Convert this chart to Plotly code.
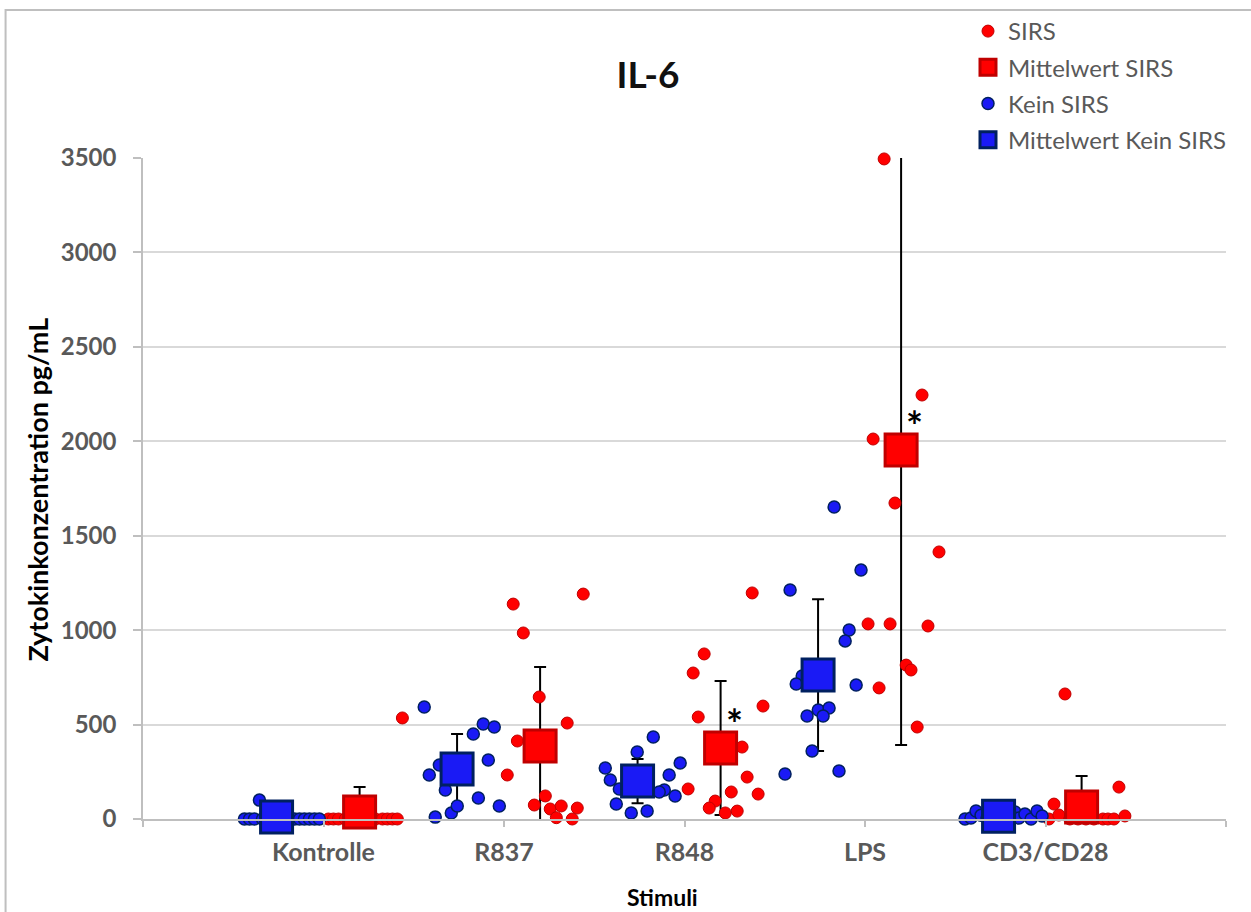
import plotly.graph_objects as go

# ---------------- data ----------------
categories = ["Kontrolle", "R837", "R848", "LPS", "CD3/CD28"]
category_pos = [1, 2, 3, 4, 5]

# SIRS single values (x = jittered position on the numeric x axis, y = pg/mL)
sirs_kontrolle_x = [1.027, 1.055, 1.083, 1.121, 1.160, 1.204, 1.249, 1.288, 1.327, 1.354, 1.382, 1.409, 1.437]
sirs_kontrolle_y = [0, 0, 0, 0, 0, 0, 0, 0, 0, 0, 0, 0, 535]
sirs_r837_x = [2.051, 2.107, 2.439, 2.195, 2.350, 2.074, 2.018, 2.168, 2.229, 2.256, 2.290, 2.317, 2.378, 2.406]
sirs_r837_y = [1138, 985, 1191, 646, 508, 413, 233, 74, 122, 53, 7, 69, 0, 58]
sirs_r848_x = [3.109, 3.048, 3.076, 3.435, 3.319, 3.347, 3.408, 3.259, 3.020, 3.170, 3.137, 3.226, 3.292, 3.375]
sirs_r848_y = [874, 773, 540, 598, 381, 222, 132, 143, 159, 95, 58, 32, 42, 1197]
sirs_lps_x = [4.316, 4.045, 4.166, 4.410, 4.017, 4.139, 4.349, 4.228, 4.255, 4.078, 4.289, 4.106]
sirs_lps_y = [2245, 2012, 1673, 1414, 1033, 1033, 1022, 815, 789, 694, 487, 3495]
sirs_cd3_x = [5.019, 5.047, 5.074, 5.108, 5.135, 5.180, 5.224, 5.268, 5.318, 5.346, 5.379, 5.407, 5.440]
sirs_cd3_y = [0, 79, 21, 662, 0, 0, 0, 0, 0, 0, 0, 169, 16]

# Kein SIRS single values
kein_kontrolle_x = [0.562, 0.590, 0.617, 0.645, 0.662, 0.706, 0.750, 0.795, 0.839, 0.867, 0.894, 0.922, 0.950, 0.977]
kein_kontrolle_y = [0, 0, 0, 100, 0, 0, 0, 0, 0, 0, 0, 0, 0, 0]
kein_r837_x = [1.558, 1.586, 1.619, 1.642, 1.675, 1.708, 1.741, 1.830, 1.885, 1.946, 1.913, 1.858, 1.974]
kein_r837_y = [593, 233, 10, 286, 154, 32, 69, 450, 503, 487, 312, 111, 69]
kein_r848_x = [2.827, 2.738, 2.561, 2.589, 2.639, 2.622, 2.705, 2.793, 2.976, 2.915, 2.888, 2.860, 2.948]
kein_r848_y = [434, 355, 270, 207, 159, 79, 32, 42, 296, 233, 154, 143, 122]
kein_lps_x = [3.829, 3.978, 3.585, 3.912, 3.890, 3.951, 3.652, 3.619, 3.741, 3.801, 3.679, 3.768, 3.707, 3.557, 3.856]
kein_lps_y = [1652, 1318, 1213, 1001, 943, 709, 757, 715, 577, 588, 545, 545, 360, 238, 254]
kein_cd3_x = [4.554, 4.587, 4.615, 4.643, 4.676, 4.709, 4.765, 4.803, 4.831, 4.853, 4.886, 4.920, 4.953, 4.981]
kein_cd3_y = [0, 5, 42, 20, 5, 10, 15, 25, 37, 5, 26, 0, 42, 16]

# means and standard deviations
mean_sirs_x = [1.2, 2.2, 3.2, 4.2, 5.2]
mean_sirs = [37, 386, 376, 1954, 64]
sd_sirs = [133, 419, 355, 1562, 164]
mean_kein_x = [0.74, 1.74, 2.74, 3.74, 4.74]
mean_kein = [10, 265, 201, 762, 15]
sd_kein = [28, 185, 117, 402, 20]

# significance marks
star_x = [3.275, 4.272]
star_y = [505, 2080]

y_ticks = [0, 500, 1000, 1500, 2000, 2500, 3000, 3500]

# ---------------- figure ----------------
sirs_x = sirs_kontrolle_x + sirs_r837_x + sirs_r848_x + sirs_lps_x + sirs_cd3_x
sirs_y = sirs_kontrolle_y + sirs_r837_y + sirs_r848_y + sirs_lps_y + sirs_cd3_y
kein_x = kein_kontrolle_x + kein_r837_x + kein_r848_x + kein_lps_x + kein_cd3_x
kein_y = kein_kontrolle_y + kein_r837_y + kein_r848_y + kein_lps_y + kein_cd3_y

RED = "#FF0000"
RED_EDGE = "#C00000"
BLUE = "#1A1AF5"
BLUE_EDGE = "#002060"
FONT = "Lato"

fig = go.Figure()

# error bars (clipped to plot area, drawn beneath the points)
for mx, my, sd in [(mean_sirs_x, mean_sirs, sd_sirs), (mean_kein_x, mean_kein, sd_kein)]:
    fig.add_trace(go.Scatter(
        x=mx, y=my, mode="markers", showlegend=False, hoverinfo="skip",
        marker=dict(size=1, color="rgba(0,0,0,0)"),
        error_y=dict(type="data", array=sd, visible=True, color="black", thickness=2, width=6),
    ))

fig.add_trace(go.Scatter(
    x=sirs_x, y=sirs_y, mode="markers", name="SIRS", cliponaxis=False, legendgroup="a",
    marker=dict(symbol="circle", size=12, color=RED, line=dict(color=RED_EDGE, width=1)),
))
fig.add_trace(go.Scatter(
    x=mean_sirs_x, y=mean_sirs, mode="markers", name="Mittelwert SIRS", cliponaxis=False, legendgroup="b",
    marker=dict(symbol="square", size=32, color=RED, line=dict(color=RED_EDGE, width=3)),
))
fig.add_trace(go.Scatter(
    x=kein_x, y=kein_y, mode="markers", name="Kein SIRS", cliponaxis=False, legendgroup="c",
    marker=dict(symbol="circle", size=12, color=BLUE, line=dict(color=BLUE_EDGE, width=1.5)),
))
fig.add_trace(go.Scatter(
    x=mean_kein_x, y=mean_kein, mode="markers", name="Mittelwert Kein SIRS", cliponaxis=False, legendgroup="d",
    marker=dict(symbol="square", size=32, color=BLUE, line=dict(color=BLUE_EDGE, width=3)),
))

for sx, sy in zip(star_x, star_y):
    fig.add_annotation(x=sx, y=sy, text="<b>*</b>", showarrow=False,
                       font=dict(family=FONT, size=40, color="black"))

# axis titles placed as annotations
fig.add_annotation(xref="paper", yref="paper", x=(36 - 142.5) / 1083.5, y=(819 - 490) / 661,
                   text="<b>Zytokinkonzentration pg/mL</b>", textangle=-90, showarrow=False,
                   xanchor="center", yanchor="middle",
                   font=dict(family=FONT, size=27, color="black"))
fig.add_annotation(xref="paper", yref="paper", x=(662 - 142.5) / 1083.5, y=(819 - 897) / 661,
                   text="<b>Stimuli</b>", showarrow=False, xanchor="center", yanchor="middle",
                   font=dict(family=FONT, size=23, color="black"))

fig.update_layout(
    width=1251, height=912,
    margin=dict(l=142.5, r=25, t=158, b=93, autoexpand=False),
    paper_bgcolor="white", plot_bgcolor="white",
    title=dict(text="<b>IL-6</b>", x=648 / 1251, xanchor="center", y=1 - 75 / 912, yanchor="middle",
               font=dict(family=FONT, size=37, color="#111111")),
    legend=dict(xref="container", yref="container", x=968 / 1251, y=1 - 9 / 912,
                xanchor="left", yanchor="top", traceorder="grouped",
                tracegroupgap=2,
                font=dict(family=FONT, size=24, color="#595959"), bgcolor="rgba(0,0,0,0)",
                itemsizing="trace"),
    font=dict(family=FONT),
    shapes=[dict(type="rect", xref="paper", yref="paper", x0=-0.1269, x1=1.2, y0=-0.3, y1=1.2239,
                 line=dict(color="#BFBFBF", width=2), fillcolor="rgba(0,0,0,0)", layer="below")],
)

fig.update_xaxes(
    range=[0, 6], tickmode="array", tickvals=[0] + category_pos + [6], ticktext=[""] + categories + [""],
    showgrid=False, zeroline=False, showline=True, linecolor="#BFBFBF", linewidth=1.5,
    ticks="outside", ticklen=6, tickcolor="#BFBFBF", tickwidth=1.5, ticklabelstandoff=4,
    tickfont=dict(family=FONT, size=25, color="#595959", weight="bold"), automargin=False,
)
fig.update_yaxes(
    range=[0, 3500], tickmode="array", tickvals=y_ticks,
    showgrid=True, gridcolor="#D9D9D9", gridwidth=1.5, zeroline=False,
    showline=True, linecolor="#BFBFBF", linewidth=1.5,
    ticks="outside", ticklen=8, tickcolor="#BFBFBF", tickwidth=1.5, ticklabelstandoff=12,
    tickfont=dict(family=FONT, size=24, color="#595959", weight="bold"), automargin=False,
)

fig.write_html("out.html")
